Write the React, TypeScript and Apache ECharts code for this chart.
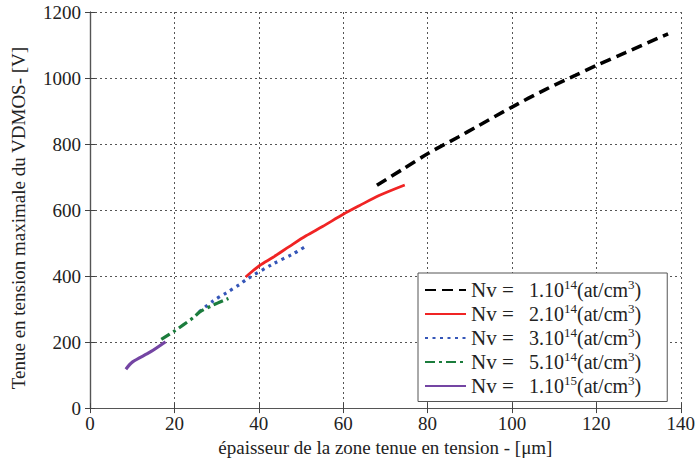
import React, { useEffect, useRef } from "react";
import * as echarts from "echarts";

const seriesNames = ["1.10^14", "2.10^14", "3.10^14", "5.10^14", "1.10^15"];
const x1 = [68.0, 73.9, 80.2, 87.4, 91.3, 100, 107.9, 115.0, 120, 126.9, 137.0];
const y1 = [675, 722, 772, 822, 850, 912, 965, 1008, 1038, 1077, 1134];
const x2 = [36.9, 40.2, 43.4, 47.3, 51.2, 55.1, 60, 63.8, 68.5, 74.6];
const y2 = [397, 432, 457, 490, 522, 550, 587, 613, 644, 676];
const x3 = [25.9, 29.2, 32.4, 35.5, 37.1, 43.4, 48.1, 51.6];
const y3 = [292, 325, 350, 375, 390, 437, 467, 494];
const x4 = [16.9, 20.2, 22.1, 24.5, 26.1, 29.2, 32.8];
const y4 = [208, 235, 252, 274, 292, 312, 332];
const x5 = [8.5, 10.1, 14.3, 17.9];
const y5 = [118, 140, 170, 201];
const legendMantissa = ["1.10", "2.10", "3.10", "5.10", "1.10"];
const legendExp = ["14", "14", "14", "14", "15"];

const FONT = "'Liberation Serif', 'Times New Roman', serif";

export default function App() {
  const ref = useRef<HTMLDivElement>(null);
  useEffect(() => {
    if (!ref.current) return;
    const chart = echarts.init(ref.current, undefined, { renderer: "svg" });
    const zip = (xs: number[], ys: number[]) => xs.map((x, i) => [x, ys[i]]);
    const styles = [
      { color: "#000000", width: 3.6, type: [11, 6] as any },
      { color: "#f02424", width: 2.8, type: "solid" },
      { color: "#3556b8", width: 3.2, type: [3, 4.5] as any },
      { color: "#1b7c3c", width: 3.2, type: [10, 4, 3, 4] as any },
      { color: "#7445a3", width: 3.2, type: "solid" },
    ];
    const datas = [zip(x1, y1), zip(x2, y2), zip(x3, y3), zip(x4, y4), zip(x5, y5)];
    const axisCommon = {
      axisLine: { show: true, lineStyle: { color: "#555", width: 1.2 } },
      axisTick: { show: true, inside: true, length: 5, lineStyle: { color: "#444" } },
    };
    chart.setOption({
      animation: false,
      backgroundColor: "#fff",
      grid: { left: 90, right: 17, top: 12, bottom: 52 },
      textStyle: { fontFamily: FONT },
      legend: {
        orient: "vertical",
        left: 418,
        top: 273,
        padding: [5, 26, 5, 6],
        itemGap: 1.5,
        itemWidth: 41,
        itemHeight: 14,
        backgroundColor: "#fff",
        borderColor: "#555",
        borderWidth: 1,
        borderRadius: 0,
        itemStyle: { opacity: 0 },
        data: seriesNames,
        formatter: (name: string) => {
          const i = seriesNames.indexOf(name);
          return `{a|Nv = }{b|${legendMantissa[i]}}{s|${legendExp[i]}}{b|(at/cm}{s|3}{b|)}`;
        },
        textStyle: {
          fontFamily: FONT,
          fontSize: 20,
          color: "#222",
          rich: {
            a: { fontFamily: FONT, fontSize: 21, color: "#222", width: 58, lineHeight: 24 },
            b: { fontFamily: FONT, fontSize: 20, color: "#222", lineHeight: 24 },
            s: { fontFamily: FONT, fontSize: 13, color: "#222", verticalAlign: "top", lineHeight: 24, padding: [0, 0, 8, 0] },
          },
        },
      },
      xAxis: [
        {
          type: "value",
          min: 0,
          max: 140,
          interval: 20,
          name: "épaisseur de la zone tenue en tension - [μm]",
          nameLocation: "middle",
          nameGap: 25,
          nameTextStyle: { fontFamily: FONT, fontSize: 19, color: "#222" },
          axisLabel: { fontFamily: FONT, fontSize: 19, color: "#222", margin: 6 },
          splitLine: { show: true, lineStyle: { color: "#555", type: [2, 3], width: 1 } },
          ...axisCommon,
        },
        {
          type: "value",
          position: "top",
          min: 0,
          max: 140,
          interval: 20,
          axisLabel: { show: false },
          splitLine: { show: false },
          ...axisCommon,
        },
      ],
      yAxis: [
        {
          type: "value",
          min: 0,
          max: 1200,
          interval: 200,
          name: "Tenue en tension maximale du VDMOS- [V]",
          nameLocation: "middle",
          nameGap: 62,
          nameTextStyle: { fontFamily: FONT, fontSize: 19, color: "#222", padding: [0, 16, 0, 0] },
          axisLabel: { fontFamily: FONT, fontSize: 19, color: "#222", margin: 9, formatter: (v: number) => String(v) },
          splitLine: { show: true, lineStyle: { color: "#555", type: [2, 3], width: 1 } },
          ...axisCommon,
        },
        {
          type: "value",
          position: "right",
          min: 0,
          max: 1200,
          interval: 200,
          axisLabel: { show: false },
          splitLine: { show: false },
          ...axisCommon,
        },
      ],
      series: seriesNames.map((name, i) => ({
        name,
        type: "line",
        data: datas[i],
        showSymbol: false,
        symbol: "none",
        smooth: 0.3,
        lineStyle: styles[i],
        itemStyle: { color: styles[i].color },
      })),
    });
    return () => chart.dispose();
  }, []);
  return <div ref={ref} style={{ width: 698, height: 462, position: "absolute", left: 0, top: 0 }} />;
}
